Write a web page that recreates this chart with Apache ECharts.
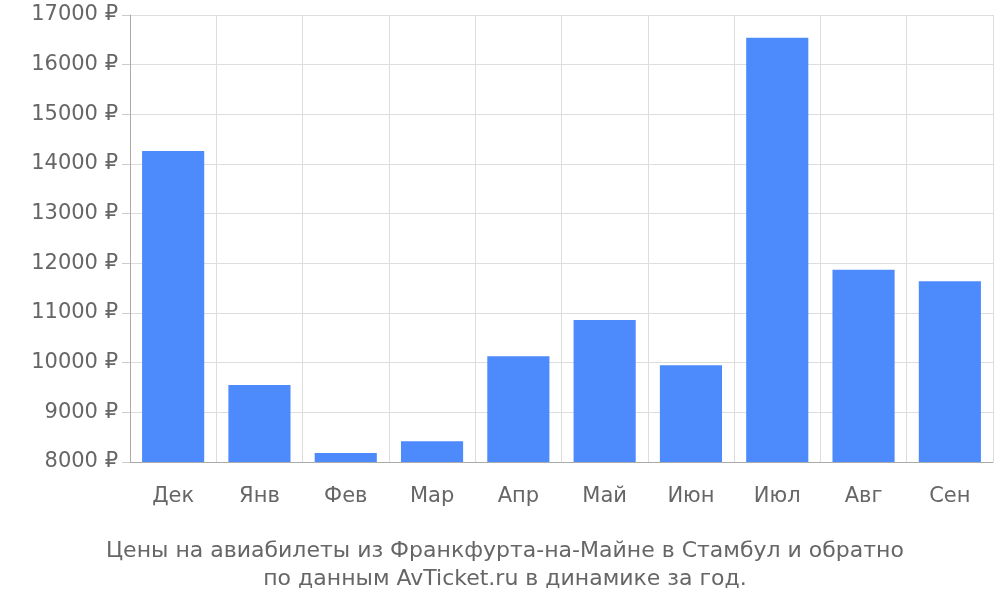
<!DOCTYPE html>
<html><head><meta charset="utf-8">
<script src="https://cdn.jsdelivr.net/npm/echarts@6/dist/echarts.min.js"></script>
</head><body style="margin:0">
<div id="c" style="width:1000px;height:600px"></div>
<script>
const categories = ["Дек","Янв","Фев","Мар","Апр","Май","Июн","Июл","Авг","Сен"];
const prices = [14260,9550,8180,8420,10130,10860,9950,16540,11870,11640];
const chart = echarts.init(document.getElementById('c'));
chart.setOption({
  animation:false,
  title:{text:"Цены на авиабилеты из Франкфурта-на-Майне в Стамбул и обратно\nпо данным AvTicket.ru в динамике за год.",
    left:500,textAlign:'center',top:532,
    textStyle:{fontFamily:'DejaVu Sans',fontSize:22,fontWeight:'normal',color:'#666',lineHeight:28}},
  grid:{left:130,right:7,top:15,bottom:138},
  xAxis:{type:'category',data:categories,
    axisLine:{lineStyle:{color:'#aaa'}},
    axisTick:{length:18,lineStyle:{color:'#ccc'}},
    splitLine:{show:true,lineStyle:{color:'#ddd'}},
    axisLabel:{fontFamily:'DejaVu Sans',fontSize:21,color:'#666',margin:24}},
  yAxis:{type:'value',min:8000,max:17000,interval:1000,
    axisLine:{show:true,lineStyle:{color:'#aaa'}},
    axisTick:{show:true,length:8,lineStyle:{color:'#ccc'}},
    splitLine:{lineStyle:{color:'#ddd'}},
    axisLabel:{fontFamily:'DejaVu Sans',fontSize:21,color:'#666',margin:12,formatter:v=>v+' ₽'}},
  series:[{type:'bar',data:prices,barWidth:'72%',itemStyle:{color:'#4d8afc'}}]
});
</script></body></html>
